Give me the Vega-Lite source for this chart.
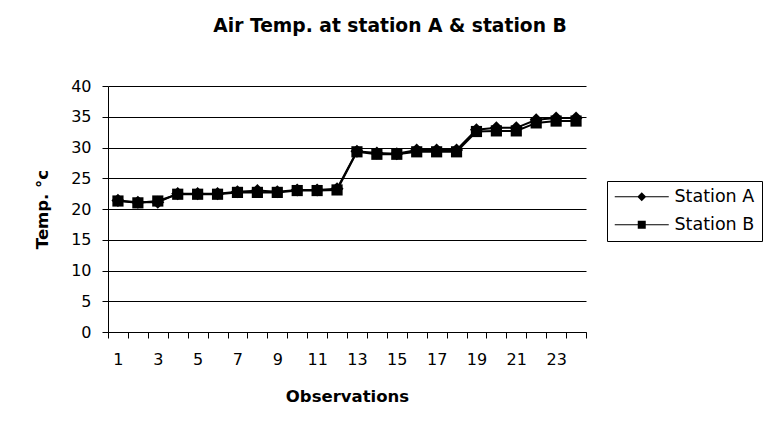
{
  "$schema": "https://vega.github.io/schema/vega-lite/v6.json",
  "width": 478,
  "height": 246,
  "autosize": "none",
  "padding": {"left": 108, "top": 86, "right": 179, "bottom": 98},
  "background": "white",
  "title": {
    "text": "Air Temp. at station A & station B",
    "font": "DejaVu Sans",
    "fontSize": 18.7,
    "fontWeight": "bold",
    "color": "black",
    "anchor": "middle",
    "dx": 43,
    "offset": 42
  },
  "data": {
    "values": [
      {"obs": 1, "station": "Station A", "temp": 21.4},
      {"obs": 2, "station": "Station A", "temp": 21.1},
      {"obs": 3, "station": "Station A", "temp": 21.1},
      {"obs": 4, "station": "Station A", "temp": 22.5},
      {"obs": 5, "station": "Station A", "temp": 22.5},
      {"obs": 6, "station": "Station A", "temp": 22.5},
      {"obs": 7, "station": "Station A", "temp": 22.8},
      {"obs": 8, "station": "Station A", "temp": 23.0},
      {"obs": 9, "station": "Station A", "temp": 22.8},
      {"obs": 10, "station": "Station A", "temp": 23.1},
      {"obs": 11, "station": "Station A", "temp": 23.1},
      {"obs": 12, "station": "Station A", "temp": 23.3},
      {"obs": 13, "station": "Station A", "temp": 29.4},
      {"obs": 14, "station": "Station A", "temp": 29.1},
      {"obs": 15, "station": "Station A", "temp": 29.0},
      {"obs": 16, "station": "Station A", "temp": 29.6},
      {"obs": 17, "station": "Station A", "temp": 29.6},
      {"obs": 18, "station": "Station A", "temp": 29.6},
      {"obs": 19, "station": "Station A", "temp": 32.9},
      {"obs": 20, "station": "Station A", "temp": 33.2},
      {"obs": 21, "station": "Station A", "temp": 33.2},
      {"obs": 22, "station": "Station A", "temp": 34.5},
      {"obs": 23, "station": "Station A", "temp": 34.8},
      {"obs": 24, "station": "Station A", "temp": 34.8},
      {"obs": 1, "station": "Station B", "temp": 21.3},
      {"obs": 2, "station": "Station B", "temp": 21.0},
      {"obs": 3, "station": "Station B", "temp": 21.3},
      {"obs": 4, "station": "Station B", "temp": 22.4},
      {"obs": 5, "station": "Station B", "temp": 22.4},
      {"obs": 6, "station": "Station B", "temp": 22.4},
      {"obs": 7, "station": "Station B", "temp": 22.7},
      {"obs": 8, "station": "Station B", "temp": 22.7},
      {"obs": 9, "station": "Station B", "temp": 22.7},
      {"obs": 10, "station": "Station B", "temp": 23.0},
      {"obs": 11, "station": "Station B", "temp": 23.0},
      {"obs": 12, "station": "Station B", "temp": 23.1},
      {"obs": 13, "station": "Station B", "temp": 29.3},
      {"obs": 14, "station": "Station B", "temp": 28.9},
      {"obs": 15, "station": "Station B", "temp": 28.9},
      {"obs": 16, "station": "Station B", "temp": 29.3},
      {"obs": 17, "station": "Station B", "temp": 29.3},
      {"obs": 18, "station": "Station B", "temp": 29.3},
      {"obs": 19, "station": "Station B", "temp": 32.6},
      {"obs": 20, "station": "Station B", "temp": 32.7},
      {"obs": 21, "station": "Station B", "temp": 32.7},
      {"obs": 22, "station": "Station B", "temp": 34.0},
      {"obs": 23, "station": "Station B", "temp": 34.3},
      {"obs": 24, "station": "Station B", "temp": 34.3}
    ]
  },
  "encoding": {
    "x": {
      "field": "obs",
      "type": "ordinal",
      "scale": {"paddingInner": 0, "paddingOuter": 0},
      "axis": {
        "title": "Observations",
        "labelAngle": 0,
        "tickBand": "extent",
        "labelExpr": "datum.value % 2 == 1 ? datum.label : ''",
        "domainColor": "black",
        "tickColor": "black",
        "tickSize": 6,
        "labelPadding": 13,
        "labelFont": "DejaVu Sans",
        "labelFontSize": 16,
        "labelColor": "black",
        "titleFont": "DejaVu Sans",
        "titleFontSize": 16.5,
        "titleFontWeight": "bold",
        "titleColor": "black",
        "titlePadding": 21
      }
    },
    "y": {
      "field": "temp",
      "type": "quantitative",
      "scale": {"domain": [0, 40], "nice": false},
      "axis": {
        "title": "Temp. °c",
        "values": [0, 5, 10, 15, 20, 25, 30, 35, 40],
        "grid": true,
        "gridColor": "black",
        "gridOpacity": 1,
        "domainColor": "black",
        "tickColor": "black",
        "tickSize": 6,
        "labelPadding": 11,
        "labelFont": "DejaVu Sans",
        "labelFontSize": 16,
        "labelColor": "black",
        "titleFont": "DejaVu Sans",
        "titleFontSize": 16.5,
        "titleFontWeight": "bold",
        "titleColor": "black",
        "titlePadding": 20
      }
    }
  },
  "layer": [
    {
      "mark": {"type": "line", "color": "black", "strokeWidth": 2},
      "encoding": {"detail": {"field": "station"}}
    },
    {
      "mark": {"type": "point", "filled": true, "color": "black", "opacity": 1},
      "encoding": {
        "shape": {
          "field": "station",
          "type": "nominal",
          "scale": {"domain": ["Station A", "Station B"], "range": ["diamond", "square"]},
          "legend": null
        },
        "size": {
          "field": "station",
          "type": "nominal",
          "scale": {"domain": ["Station A", "Station B"], "range": [170, 125]},
          "legend": null
        }
      }
    },
    {
      "mark": {"type": "point", "filled": true, "color": "black", "opacity": 0},
      "encoding": {
        "shape": {
          "field": "station",
          "type": "nominal",
          "scale": {
            "domain": ["Station A", "Station B"],
            "range": [
              "M-3.375,-0.075L3.375,-0.075L3.375,0.075L-3.375,0.075Z M0,-0.56L0.56,0L0,0.56L-0.56,0Z",
              "M-3.375,-0.075L3.375,-0.075L3.375,0.075L-3.375,0.075Z M-0.5,-0.5L0.5,-0.5L0.5,0.5L-0.5,0.5Z"
            ]
          },
          "legend": {
            "title": null,
            "orient": "none",
            "legendX": 499,
            "legendY": 95,
            "strokeColor": "black",
            "fillColor": "white",
            "padding": 7,
            "symbolSize": 256,
            "symbolOffset": 19,
            "symbolFillColor": "black",
            "symbolStrokeColor": "black",
            "symbolStrokeWidth": 0,
            "symbolOpacity": 1,
            "labelFont": "DejaVu Sans",
            "labelFontSize": 17.5,
            "labelColor": "black",
            "labelOffset": 24,
            "rowPadding": 9,
            "encode": {
              "symbols": {
                "update": {
                  "fill": {"value": "black"},
                  "opacity": {"value": 1}
                }
              }
            }
          }
        }
      }
    }
  ],
  "resolve": {"scale": {"shape": "independent"}, "legend": {"shape": "independent"}},
  "config": {"view": {"stroke": null}}
}
